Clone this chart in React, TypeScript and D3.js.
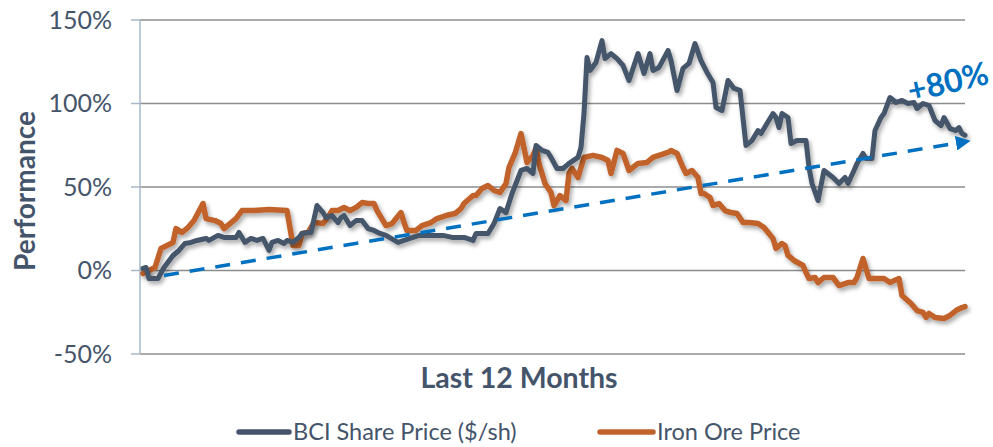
import React from 'react';
import * as d3 from 'd3';

// trading-day index / performance (%)
const bciDays = [0, 1, 2, 5, 7, 10, 12, 14, 16, 18, 21, 22, 25, 27, 31, 32, 34, 36, 38, 40, 42, 43, 45, 47, 48, 50, 52, 53, 55, 56, 58, 60, 61, 63, 65, 66, 67, 69, 71, 73, 75, 77, 79, 81, 85, 87, 89, 92, 97, 100, 103, 107, 110, 111, 115, 117, 119, 121, 123, 126, 128, 130, 131, 133, 135, 136, 138, 140, 142, 145, 146, 147, 148, 149, 151, 153, 154, 156, 158, 160, 162, 165, 167, 169, 170, 172, 175, 176, 178, 180, 182, 184, 186, 188, 190, 191, 193, 195, 197, 199, 201, 203, 205, 206, 208, 210, 211, 212, 213, 215, 216, 218, 221, 222, 223, 225, 227, 230, 232, 234, 235, 237, 238, 240, 241, 243, 244, 246, 247, 249, 251, 253, 255, 257, 258, 260, 262, 264, 266, 267, 269, 271, 272, 273, 274];
const bciValues = [1.2, 1.8, -4.8, -4.8, 1.8, 9.0, 12.0, 16.2, 16.8, 18.0, 19.2, 18.0, 21.0, 19.8, 19.8, 22.8, 16.8, 19.2, 18.0, 19.2, 12.0, 16.8, 18.0, 16.2, 18.0, 16.8, 19.8, 22.2, 22.8, 22.8, 38.9, 34.7, 31.7, 32.9, 28.7, 31.7, 32.9, 26.9, 29.9, 29.9, 25.1, 24.0, 22.2, 21.0, 16.8, 18.0, 19.2, 21.0, 21.0, 21.0, 19.8, 19.8, 18.0, 22.2, 22.2, 28.1, 37.1, 34.7, 46.1, 59.9, 61.1, 58.1, 74.9, 71.9, 70.7, 67.7, 61.1, 61.1, 64.1, 67.7, 73.7, 94.0, 127.5, 119.8, 124.6, 137.7, 126.9, 129.9, 126.9, 122.8, 113.8, 129.9, 118.0, 129.9, 119.8, 121.6, 131.7, 125.7, 107.8, 121.0, 124.0, 135.9, 125.7, 118.6, 112.6, 97.6, 95.8, 113.8, 109.0, 107.8, 74.9, 77.8, 83.8, 82.0, 88.0, 94.0, 91.6, 85.6, 94.0, 91.6, 76.0, 77.8, 77.8, 61.7, 52.1, 41.9, 59.9, 55.7, 52.1, 55.7, 52.1, 59.9, 64.1, 70.1, 67.1, 67.1, 83.8, 91.6, 94.0, 103.6, 100.6, 101.8, 100.0, 100.6, 97.0, 100.0, 98.8, 89.8, 86.8, 91.6, 85.0, 83.8, 85.6, 82.0, 81.0];

const ironDays = [0, 2, 4, 6, 8, 10, 11, 13, 15, 17, 20, 21, 24, 26, 27, 31, 33, 37, 42, 48, 50, 52, 53, 55, 57, 60, 62, 63, 65, 67, 69, 71, 73, 75, 77, 78, 80, 81, 83, 86, 87, 88, 91, 93, 96, 98, 101, 104, 106, 107, 110, 111, 113, 115, 117, 119, 121, 122, 124, 126, 128, 130, 131, 132, 134, 136, 137, 139, 141, 142, 143, 145, 147, 150, 153, 155, 156, 158, 160, 162, 165, 168, 170, 172, 175, 176, 178, 180, 181, 183, 185, 186, 187, 189, 190, 192, 194, 196, 198, 200, 202, 205, 207, 210, 211, 213, 214, 215, 217, 220, 221, 222, 224, 225, 227, 230, 232, 235, 237, 238, 240, 241, 242, 247, 249, 252, 253, 256, 258, 260, 261, 262, 264, 267, 269, 271, 273, 274];
const ironValues = [-1.8, 0.0, 1.8, 13.2, 15.0, 16.8, 25.1, 22.8, 25.7, 29.9, 40.1, 31.1, 29.9, 28.1, 25.1, 31.1, 35.9, 35.9, 36.5, 35.9, 15.0, 15.0, 22.2, 22.8, 28.7, 28.1, 32.9, 35.9, 35.9, 37.7, 35.9, 37.7, 40.7, 40.1, 40.1, 35.9, 29.9, 26.9, 28.1, 34.7, 28.7, 24.0, 24.0, 26.9, 28.7, 31.1, 32.9, 34.1, 37.1, 40.1, 44.9, 44.9, 49.1, 50.9, 47.9, 46.7, 52.1, 61.7, 70.1, 82.0, 64.7, 68.9, 73.1, 64.1, 52.1, 46.7, 38.9, 44.9, 41.9, 58.1, 61.1, 55.7, 67.7, 68.9, 67.7, 65.9, 58.1, 71.9, 70.1, 59.9, 64.1, 64.7, 67.7, 68.9, 70.7, 71.9, 70.1, 61.7, 58.1, 59.9, 55.7, 46.1, 46.1, 43.7, 38.9, 40.1, 35.9, 34.7, 34.1, 28.7, 28.7, 28.1, 25.7, 19.2, 13.2, 16.2, 15.0, 9.0, 6.0, 3.0, -1.2, -4.8, -4.2, -7.2, -4.2, -4.2, -9.0, -7.2, -7.2, -4.2, 7.2, 1.2, -4.8, -4.8, -7.2, -4.8, -15.0, -19.8, -24.0, -25.1, -28.1, -25.7, -28.1, -28.7, -26.9, -24.0, -22.2, -21.6];

const trendDays = [7, 272];
const trendValues = [-3, 76.5];

const yTicks = [-50, 0, 50, 100, 150];
const seriesNames = ['BCI Share Price ($/sh)', 'Iron Ore Price'];
const trendLabel = '+80%';

const W = 993;
const H = 447;
const FONT = 'Lato, "Open Sans", sans-serif';
const SLATE = '#44546a';
const ORANGE = '#c0622b';
const BLUE = '#0070c0';

export default function App() {
  const x = d3.scaleLinear().domain([0, 274]).range([143, 965]);
  const y = d3.scaleLinear().domain([-50, 150]).range([354, 20]);

  const line = d3.line<[number, number]>()
    .x(d => x(d[0]))
    .y(d => y(d[1]))
    .curve(d3.curveLinear);

  const bci = bciDays.map((d, i) => [d, bciValues[i]] as [number, number]);
  const iron = ironDays.map((d, i) => [d, ironValues[i]] as [number, number]);
  const trend = trendDays.map((d, i) => [d, trendValues[i]] as [number, number]);

  return (
    <div style={{ position: 'absolute', left: 0, top: 0, width: W, height: H, background: '#fff' }}>
      <svg width={W} height={H} style={{ display: 'block' }} fontFamily={FONT}>
        <defs>
          <filter id="shadow" x="-5%" y="-5%" width="110%" height="120%">
            <feDropShadow dx="2" dy="3" stdDeviation="2" floodColor="#000" floodOpacity="0.35" />
          </filter>
          <marker id="arrow" viewBox="0 0 10 10" refX="2" refY="5" markerWidth="4.2" markerHeight="4.2"
            orient="auto" markerUnits="strokeWidth">
            <path d="M0,0 L10,5 L0,10 z" fill={BLUE} />
          </marker>
        </defs>

        {/* gridlines */}
        {yTicks.map(t => (
          <line key={'g' + t} x1={140} x2={965} y1={y(t)} y2={y(t)} stroke="#8c8c8c" strokeWidth={1.5} />
        ))}
        {/* y axis */}
        <line x1={140} x2={140} y1={y(150)} y2={y(-50)} stroke="#a9b8c8" strokeWidth={1.5} />
        {yTicks.map(t => (
          <g key={'t' + t}>
            <line x1={131} x2={140} y1={y(t)} y2={y(t)} stroke="#a9b8c8" strokeWidth={1.5} />
            <text x={112} y={y(t)} dy="0.35em" textAnchor="end" fontSize={25} fill={SLATE}>
              {t}%
            </text>
          </g>
        ))}

        <text transform="translate(35,191) rotate(-90)" textAnchor="middle" fontSize={28}
          fontWeight="bold" fill={SLATE}>Performance</text>
        <text x={519} y={388} textAnchor="middle" fontSize={28.5} fontWeight="bold" fill={SLATE}>
          Last 12 Months
        </text>

        {/* series */}
        <path d={line(iron) || ''} fill="none" stroke={ORANGE} strokeWidth={5.5} strokeLinejoin="round"
          strokeLinecap="round" filter="url(#shadow)" />
        <path d={line(bci) || ''} fill="none" stroke={SLATE} strokeWidth={5} strokeLinejoin="round"
          strokeLinecap="round" filter="url(#shadow)" />

        {/* trend arrow */}
        <path d={line(trend) || ''} fill="none" stroke={BLUE} strokeWidth={3.5} strokeDasharray="15 11"
          markerEnd="url(#arrow)" />
        <text transform="translate(948,82) rotate(-13)" textAnchor="middle" dy="0.35em" fontSize={32}
          fontWeight="bold" fill={BLUE}>{trendLabel}</text>

        {/* legend */}
        <line x1={239} x2={289} y1={432} y2={432} stroke={SLATE} strokeWidth={5.5} strokeLinecap="round" />
        <text x={293} y={432} dy="0.35em" fontSize={23.5} fill={SLATE}>{seriesNames[0]}</text>
        <line x1={600} x2={653} y1={432} y2={432} stroke={ORANGE} strokeWidth={5.5} strokeLinecap="round" />
        <text x={657} y={432} dy="0.35em" fontSize={23.5} fill={SLATE}>{seriesNames[1]}</text>
      </svg>
    </div>
  );
}
